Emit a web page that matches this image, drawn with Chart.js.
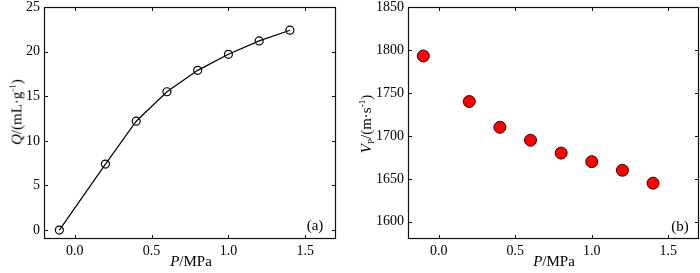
<!DOCTYPE html>
<html><head><meta charset="utf-8">
<script src="https://cdn.jsdelivr.net/npm/chart.js@4"></script>
<style>
body{margin:0;background:#fff;}
#wrap{position:relative;width:700px;height:273px;font-family:"Liberation Serif",serif;color:#000;overflow:hidden;}
canvas{position:absolute;top:0;}
.lbl{position:absolute;font-size:15px;line-height:1;white-space:nowrap;}
.rot{transform:translate(-50%,-50%) rotate(-90deg);}
.ctr{transform:translate(-50%,-50%);}
sup{font-size:9px;vertical-align:6px;line-height:0;}
sub{font-size:9px;vertical-align:-3px;line-height:0;}
</style></head><body>
<div id="wrap">
<canvas id="ca" width="350" height="273" style="left:0"></canvas>
<canvas id="cb" width="350" height="273" style="left:350px"></canvas>
<div class="lbl ctr" style="left:191px;top:261px"><i>P</i>/MPa</div>
<div class="lbl ctr" style="left:554px;top:261px"><i>P</i>/MPa</div>
<div class="lbl rot" style="left:17px;top:112px"><i>Q</i>/(mL·g<sup>-1</sup>)</div>
<div class="lbl rot" style="left:366px;top:124px"><i>V</i><sub>P</sub>/(m·s<sup>-1</sup>)</div>
<div class="lbl ctr" style="left:315px;top:225px">(a)</div>
<div class="lbl ctr" style="left:680px;top:226px">(b)</div>
</div>
<script>
// ---- data ----
const pressure = [-0.1, 0.2, 0.4, 0.6, 0.8, 1.0, 1.2, 1.4];
const gasQ = [0, 7.4, 12.2, 15.5, 17.9, 19.7, 21.2, 22.4];
const velocityVp = [1793, 1740, 1710, 1695, 1680, 1670, 1660, 1645];
const xTicks = [0, 0.5, 1.0, 1.5];
const qTicks = [0, 5, 10, 15, 20, 25];
const vTicks = [1600, 1650, 1700, 1750, 1800, 1850];

Chart.defaults.font.family = "'Liberation Serif', serif";
Chart.defaults.font.size = 14;
Chart.defaults.color = '#000';
const FONT = {family: "'Liberation Serif', serif", size: 14};

const framePlugin = {
  id: 'frame',
  afterDraw(chart) {
    const {ctx, chartArea: a, scales: {x, y}} = chart;
    ctx.save();
    ctx.strokeStyle = '#111';
    ctx.lineWidth = 1.2;
    ctx.strokeRect(a.left + 0.5, a.top + 0.5, a.right - a.left - 1, a.bottom - a.top - 1);
    ctx.lineWidth = 1;
    ctx.beginPath();
    x.ticks.forEach(t => {
      const px = Math.round(x.getPixelForValue(t.value)) + 0.5;
      ctx.moveTo(px, a.bottom); ctx.lineTo(px, a.bottom - 4);
      ctx.moveTo(px, a.top); ctx.lineTo(px, a.top + 4);
    });
    y.ticks.forEach(t => {
      const py = Math.round(y.getPixelForValue(t.value)) + 0.5;
      ctx.moveTo(a.left, py); ctx.lineTo(a.left + 4, py);
      ctx.moveTo(a.right, py); ctx.lineTo(a.right - 4, py);
    });
    ctx.stroke();
    ctx.restore();
  }
};

function makeScales(yMin, yMax, yTickVals, yWidth) {
  return {
    x: {
      type: 'linear', min: -0.2, max: 1.7,
      afterBuildTicks: s => { s.ticks = xTicks.map(v => ({value: v})); },
      afterFit: s => { s.height = 34; s.paddingLeft = 0; s.paddingRight = 0; s.paddingTop = 0; s.paddingBottom = 0; },
      grid: {display: false, drawTicks: false},
      border: {display: false},
      ticks: {font: FONT, color: '#000', padding: 4, maxRotation: 0, autoSkip: false,
        callback: v => Number(v).toFixed(1)}
    },
    y: {
      type: 'linear', min: yMin, max: yMax,
      afterBuildTicks: s => { s.ticks = yTickVals.map(v => ({value: v})); },
      afterFit: s => { s.width = yWidth; s.paddingTop = 0; s.paddingBottom = 0; s.paddingLeft = 0; s.paddingRight = 0; },
      grid: {display: false, drawTicks: false},
      border: {display: false},
      ticks: {font: FONT, color: '#000', padding: 4, autoSkip: false,
        callback: v => String(v)}
    }
  };
}

function draw() {
  const common = {
    responsive: false,
    animation: false,
    plugins: {legend: {display: false}, tooltip: {enabled: false}},
  };

  new Chart(document.getElementById('ca'), {
    type: 'line',
    data: {
      datasets: [{
        data: pressure.map((p, i) => ({x: p, y: gasQ[i]})),
        borderColor: '#000', borderWidth: 1.2, tension: 0,
        pointRadius: 4, pointBorderWidth: 1.2,
        pointBackgroundColor: 'rgba(0,0,0,0)', pointBorderColor: '#000',
        fill: false
      }]
    },
    options: Object.assign({}, common, {
      layout: {autoPadding: false, padding: {top: 7, right: 14, left: 0, bottom: 0}},
      scales: makeScales(-1, 25, qTicks, 44)
    }),
    plugins: [framePlugin]
  });

  new Chart(document.getElementById('cb'), {
    type: 'scatter',
    data: {
      datasets: [{
        data: pressure.map((p, i) => ({x: p, y: velocityVp[i]})),
        pointRadius: 6, pointBorderWidth: 1,
        pointBackgroundColor: '#ff0000', pointBorderColor: '#3a0000'
      }]
    },
    options: Object.assign({}, common, {
      layout: {autoPadding: false, padding: {top: 7, right: 1, left: 0, bottom: 0}},
      scales: makeScales(1580, 1850, vTicks, 58)
    }),
    plugins: [framePlugin]
  });
}

if (document.fonts && document.fonts.load) {
  document.fonts.load("14px 'Liberation Serif'").then(draw, draw);
} else {
  draw();
}
</script>
</body></html>
